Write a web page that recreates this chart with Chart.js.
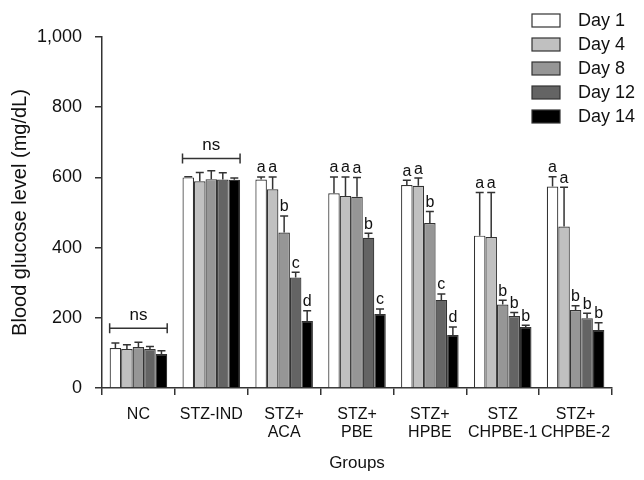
<!DOCTYPE html>
<html>
<head>
<meta charset="utf-8">
<script src="https://cdn.jsdelivr.net/npm/chart.js@4"></script>
<style>
  body { margin: 0; background: #fff; }
  #wrap { width: 644px; height: 480px; }
</style>
</head>
<body>
<div id="wrap"><canvas id="glucoseChart" width="644" height="480"></canvas></div>
<script>
// groups and values
var groups = ['NC', 'STZ-IND', ['STZ+', 'ACA'], ['STZ+', 'PBE'], ['STZ+', 'HPBE'], ['STZ', 'CHPBE-1'], ['STZ+', 'CHPBE-2']];
var dayLabels = ['Day 1', 'Day 4', 'Day 8', 'Day 12', 'Day 14'];

var day1 = [114, 600, 594, 555, 578, 434, 574];
var day4 = [111, 589, 566, 547, 576, 430, 460];
var day8 = [117, 595, 443, 545, 470, 238, 222];
var day12 = [111, 594, 315, 428, 251, 205, 199];
var day14 = [97, 593, 191, 211, 151, 174, 165];

// standard deviations (upper whisker only)
var err1 = [14, 2, 7, 46, 14, 123, 28];
var err4 = [12, 25, 35, 54, 22, 127, 112];
var err8 = [13, 24, 47, 55, 33, 12, 12];
var err12 = [7, 19, 15, 13, 17, 10, 14];
var err14 = [9, 5, 29, 14, 23, 5, 21];

// significance letters
var let1 = ['', '', 'a', 'a', 'a', 'a', 'a'];
var let4 = ['', '', 'a', 'a', 'a', 'a', 'a'];
var let8 = ['', '', 'b', 'a', 'b', 'b', 'b'];
var let12 = ['', '', 'c', 'b', 'c', 'b', 'b'];
var let14 = ['', '', 'd', 'c', 'd', 'b', 'b'];

// "ns" brackets: group index and height
var nsGroups = [0, 1];
var nsLevels = [170, 654];

var yTicks = [0, 200, 400, 600, 800, 1000];

var fillColors = ['#ffffff', '#c0c0c0', '#969696', '#646464', '#000000'];
var FONT = "'Liberation Sans', Arial, sans-serif";
var INK = '#333333';

var values = [day1, day4, day8, day12, day14];
var errors = [err1, err4, err8, err12, err14];
var letters = [let1, let4, let8, let12, let14];

var datasets = values.map(function(v, i) {
    return {
        label: dayLabels[i],
        data: v,
        backgroundColor: fillColors[i],
        borderColor: INK,
        borderWidth: 1.2,
        categoryPercentage: 0.79,
        barPercentage: 1.0
    };
});

var extrasPlugin = {
    id: 'extras',
    afterDatasetsDraw: function(chart) {
        var ctx = chart.ctx;
        var y = chart.scales.y;
        ctx.save();
        ctx.strokeStyle = INK;
        ctx.fillStyle = '#111';
        ctx.lineWidth = 1.5;
        ctx.font = '16px ' + FONT;
        ctx.textAlign = 'center';
        ctx.textBaseline = 'bottom';
        chart.data.datasets.forEach(function(ds, di) {
            var meta = chart.getDatasetMeta(di);
            meta.data.forEach(function(bar, gi) {
                var e = errors[di][gi];
                var top = y.getPixelForValue(ds.data[gi] + e);
                var base = y.getPixelForValue(ds.data[gi]);
                ctx.beginPath();
                ctx.moveTo(bar.x, base);
                ctx.lineTo(bar.x, top);
                ctx.moveTo(bar.x - 4, top);
                ctx.lineTo(bar.x + 4, top);
                ctx.stroke();
                var t = letters[di][gi];
                if (t) ctx.fillText(t, bar.x, top - 1);
            });
        });
        // ns brackets
        nsGroups.forEach(function(g, k) {
            var first = chart.getDatasetMeta(0).data[g];
            var last = chart.getDatasetMeta(4).data[g];
            var x0 = first.x - first.width / 2;
            var x1 = last.x + last.width / 2;
            var py = y.getPixelForValue(nsLevels[k]);
            ctx.beginPath();
            ctx.moveTo(x0, py);
            ctx.lineTo(x1, py);
            ctx.moveTo(x0, py - 5);
            ctx.lineTo(x0, py + 5);
            ctx.moveTo(x1, py - 5);
            ctx.lineTo(x1, py + 5);
            ctx.stroke();
            ctx.font = '17px ' + FONT;
            ctx.fillText('ns', (x0 + x1) / 2, py - 5);
        });
        ctx.restore();
    },
    afterDraw: function(chart) {
        // legend in top right corner
        var ctx = chart.ctx;
        ctx.save();
        ctx.font = '18px ' + FONT;
        ctx.textAlign = 'left';
        ctx.textBaseline = 'middle';
        chart.data.datasets.forEach(function(ds, i) {
            var by = 14 + i * 24;
            ctx.fillStyle = ds.backgroundColor;
            ctx.fillRect(532, by, 28, 13);
            ctx.strokeStyle = INK;
            ctx.lineWidth = 1.2;
            ctx.strokeRect(532, by, 28, 13);
            ctx.fillStyle = '#111';
            ctx.fillText(ds.label, 578, by + 7);
        });
        ctx.restore();
    }
};

var ctx1 = document.getElementById('glucoseChart').getContext('2d');
new Chart(ctx1, {
    type: 'bar',
    data: {
        labels: groups,
        datasets: datasets
    },
    options: {
        responsive: false,
        animation: false,
        layout: {
            padding: { top: 37, right: 32, left: 0, bottom: 0 }
        },
        plugins: {
            legend: { display: false },
            tooltip: { enabled: false }
        },
        scales: {
            x: {
                afterFit: function(scale) { scale.height = 92; },
                grid: {
                    offset: true,
                    drawOnChartArea: false,
                    tickLength: 7,
                    color: INK,
                    lineWidth: 1.5
                },
                border: { color: INK, width: 1.5 },
                ticks: {
                    color: '#111',
                    padding: 10,
                    maxRotation: 0,
                    autoSkip: false,
                    font: { family: FONT, size: 16, lineHeight: 1.15 }
                },
                title: {
                    display: true,
                    text: 'Groups',
                    color: '#111',
                    padding: { top: 0, bottom: 6 },
                    font: { family: FONT, size: 17 }
                }
            },
            y: {
                min: 0,
                max: 1000,
                afterFit: function(scale) { scale.width = 102; },
                afterBuildTicks: function(scale) {
                    scale.ticks = yTicks.map(function(v) { return { value: v }; });
                },
                grid: {
                    drawOnChartArea: false,
                    tickLength: 7,
                    color: INK,
                    lineWidth: 1.5
                },
                border: { color: INK, width: 1.5 },
                ticks: {
                    color: '#111',
                    padding: 13,
                    font: { family: FONT, size: 18 },
                    callback: function(v) { return v.toLocaleString('en-US'); }
                },
                title: {
                    display: true,
                    text: 'Blood glucose level (mg/dL)',
                    color: '#111',
                    padding: { top: 8, bottom: 0 },
                    font: { family: FONT, size: 20 }
                }
            }
        }
    },
    plugins: [extrasPlugin]
});
</script>
</body>
</html>
